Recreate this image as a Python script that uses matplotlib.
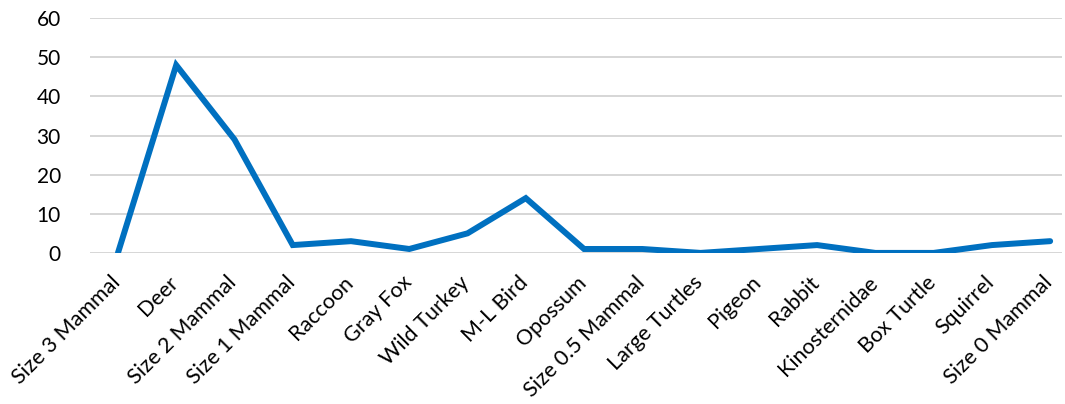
import matplotlib
matplotlib.use('Agg')
import matplotlib.pyplot as plt
import matplotlib.transforms as mtransforms

# Categories and counts
categories = ['Size 3 Mammal', 'Deer', 'Size 2 Mammal', 'Size 1 Mammal', 'Raccoon',
              'Gray Fox', 'Wild Turkey', 'M-L Bird', 'Opossum', 'Size 0.5 Mammal',
              'Large Turtles', 'Pigeon', 'Rabbit', 'Kinosternidae', 'Box Turtle',
              'Squirrel', 'Size 0 Mammal']
counts = [0, 48, 29, 2, 3, 1, 5, 14, 1, 1, 0, 1, 2, 0, 0, 2, 3]
y_ticks = [0, 10, 20, 30, 40, 50, 60]

plt.rcParams['font.family'] = ['Lato', 'DejaVu Sans']

fig = plt.figure(figsize=(10.65, 4.04), dpi=100)
ax = fig.add_axes([0.0845, 0.374, 0.9125, 0.581])

x = list(range(len(categories)))
ax.plot(x, counts, color='#0070C0', linewidth=4.3, solid_joinstyle='miter',
        solid_capstyle='round', zorder=3)

ax.set_xlim(-0.48, len(categories) - 0.8)
ax.set_ylim(0, 60)
ax.set_yticks(y_ticks)
ax.grid(axis='y', color='#D0D0D0', linewidth=1.2)
ax.set_axisbelow(True)
for s in ax.spines.values():
    s.set_visible(False)

ax.set_xticks(x)
ax.set_xticklabels(categories, rotation=45, ha='right', rotation_mode='anchor',
                   fontsize=15.5)
ax.tick_params(axis='y', labelsize=15)
ax.tick_params(axis='both', length=0, colors='#000000')
ax.tick_params(axis='x', pad=14)
ax.tick_params(axis='y', pad=21)

# nudge rotated labels left so their ends sit under the points
shift = mtransforms.ScaledTranslation(-8 / 100, 0, fig.dpi_scale_trans)
for lbl in ax.get_xticklabels():
    lbl.set_transform(lbl.get_transform() + shift)

fig.savefig('out.png', dpi=100)
